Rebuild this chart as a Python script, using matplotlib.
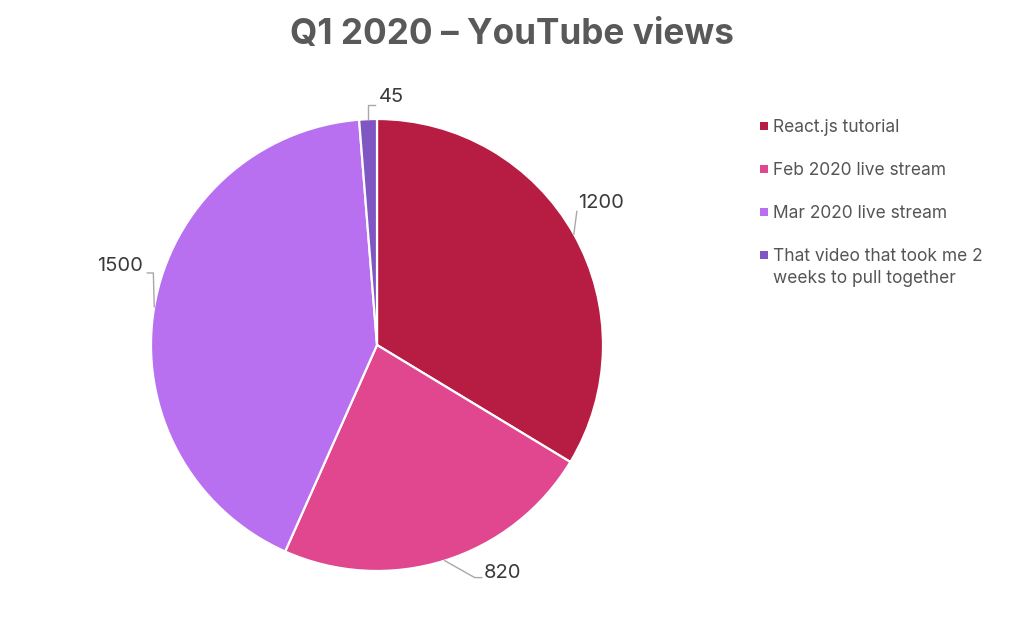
import numpy as np
import matplotlib
matplotlib.use("Agg")
import matplotlib.pyplot as plt
from matplotlib.patches import Rectangle

# ---------------------------------------------------------------------------
# Data
# ---------------------------------------------------------------------------
labels = [
    "React.js tutorial",
    "Feb 2020 live stream",
    "Mar 2020 live stream",
    "That video that took me 2\nweeks to pull together",
]
views = [1200, 820, 1500, 45]
colors = ["#B71C42", "#E0478F", "#B86FF0", "#7E57C2"]

# leader line offsets from wedge edge (elbow, end, label anchor), in radius units
leader_style = [
    dict(elbow=(0.013, 0.10), end=(0.013, 0.10), text=(0.018, 0.137), ha="left"),
    dict(elbow=(0.133, -0.075), end=(0.164, -0.075), text=(0.173, -0.053), ha="left"),
    dict(elbow=(-0.004, 0.150), end=(-0.031, 0.150), text=(-0.049, 0.181), ha="right"),
    dict(elbow=(0.0, 0.062), end=(0.031, 0.062), text=(0.049, 0.097), ha="left"),
]

plt.rcParams["font.family"] = ["Inter", "DejaVu Sans"]

W, H = 1024, 617
fig = plt.figure(figsize=(W / 100, H / 100), dpi=100)

cx, cy, R = 377, H - 345, 226
ax = fig.add_axes([(cx - R) / W, (cy - R) / H, 2 * R / W, 2 * R / H])

wedges, _ = ax.pie(
    views, colors=colors, startangle=90, counterclock=False, radius=1.0,
    wedgeprops=dict(edgecolor="white", linewidth=1.6),
)
ax.set_xlim(-1, 1)
ax.set_ylim(-1, 1)

# value labels with elbow leader lines
for w, v, st in zip(wedges, views, leader_style):
    mid = np.deg2rad((w.theta1 + w.theta2) / 2)
    x0, y0 = np.cos(mid), np.sin(mid)
    ex, ey = x0 + st["elbow"][0], y0 + st["elbow"][1]
    tx, ty = x0 + st["end"][0], y0 + st["end"][1]
    ax.plot([x0, ex, tx], [y0, ey, ty], color="#a8a8a8", lw=1.0, clip_on=False)
    ax.text(x0 + st["text"][0], y0 + st["text"][1], str(v), ha=st["ha"],
            va="center", fontsize=14.5, color="#3a3a3a", clip_on=False)

fig.text(512 / W, 1 - 34 / H, "Q1 2020 \u2013 YouTube views", ha="center",
         va="center", fontsize=25.3, fontweight="bold", color="#595959")

# legend drawn by hand so the marker sits on the first line of wrapped labels
row_y0, row_step = 126, 43
for i, (lab, col) in enumerate(zip(labels, colors)):
    yc = row_y0 + i * row_step
    fig.add_artist(Rectangle((760 / W, 1 - (yc + 4) / H), 8 / W, 8 / H,
                             transform=fig.transFigure, facecolor=col,
                             edgecolor="none"))
    fig.text(773 / W, 1 - (yc - 7) / H, lab, ha="left", va="top",
             fontsize=12.5, color="#555555", linespacing=1.36)

fig.savefig("out.png", dpi=100)
